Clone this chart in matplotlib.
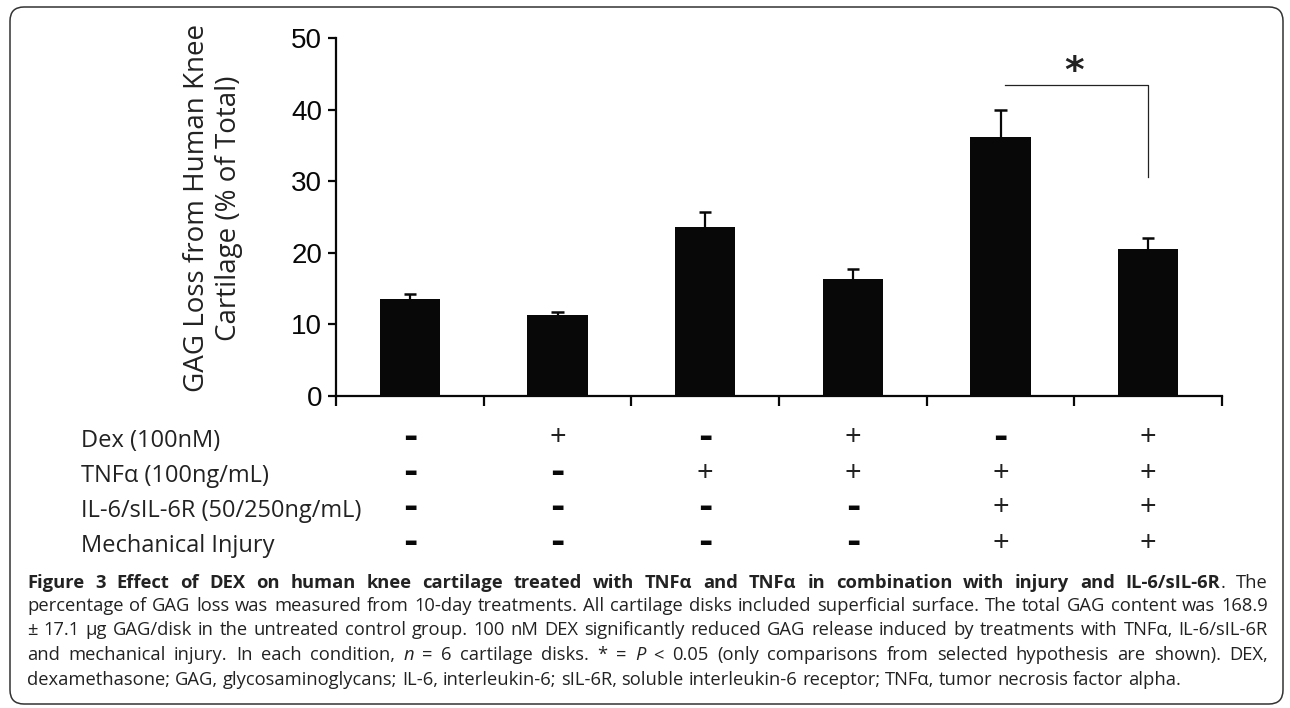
import matplotlib.pyplot as plt
import matplotlib.transforms as mtransforms
from matplotlib.patches import FancyBboxPatch
import numpy as np

# --- data ---
gag_loss = [13.5, 11.3, 23.6, 16.3, 36.2, 20.6]
gag_err = [0.7, 0.4, 2.1, 1.4, 3.8, 1.4]
yticks = [0, 10, 20, 30, 40, 50]
ylabel = "GAG Loss from Human Knee\nCartilage (% of Total)"

row_labels = ["Dex (100nM)", "TNF\u03b1 (100ng/mL)",
              "IL-6/sIL-6R (50/250ng/mL)", "Mechanical Injury"]
dex = ["-", "+", "-", "+", "-", "+"]
tnf = ["-", "-", "+", "+", "+", "+"]
il6 = ["-", "-", "-", "-", "+", "+"]
injury = ["-", "-", "-", "-", "+", "+"]
table_rows = [dex, tnf, il6, injury]

sig_pair = (4, 5)
sig_mark = "*"

caption_lines = [
    [("Figure 3 Effect of DEX on human knee cartilage treated with TNF\u03b1 and TNF\u03b1 "
      "in combination with injury and IL-6/sIL-6R", "b"), (". The", "r")],
    [("percentage of GAG loss was measured from 10-day treatments. All cartilage disks "
      "included superficial surface. The total GAG content was 168.9", "r")],
    [("\u00b1 17.1 \u03bcg GAG/disk in the untreated control group. 100 nM DEX significantly "
      "reduced GAG release induced by treatments with TNF\u03b1, IL-6/sIL-6R", "r")],
    [("and mechanical injury. In each condition, ", "r"), ("n", "i"),
     (" = 6 cartilage disks. * = ", "r"), ("P", "i"),
     (" < 0.05 (only comparisons from selected hypothesis are shown). DEX,", "r")],
    [("dexamethasone; GAG, glycosaminoglycans; IL-6, interleukin-6; sIL-6R, soluble "
      "interleukin-6 receptor; TNF\u03b1, tumor necrosis factor alpha.", "r")],
]

# --- layout ---
W, H = 1290, 708
fig = plt.figure(figsize=(W / 100, H / 100), dpi=100)
renderer = fig.canvas.get_renderer()


def fx(px):
    return px / W


def fy(py):
    return 1 - py / H


ink = "#080808"
ax = fig.add_axes([fx(336), fy(396), fx(1222) - fx(336), fy(38) - fy(396)])
x = np.arange(len(gag_loss)) + 0.5
vals = np.array(gag_loss)
errs = np.array(gag_err)
ax.bar(x, vals, width=0.41, color=ink, zorder=2)
ax.vlines(x, vals, vals + errs, color=ink, lw=1.6, zorder=1)
ax.hlines(vals + errs, x - 0.042, x + 0.042, color=ink, lw=1.8, zorder=1)

ax.set_xlim(0, len(gag_loss))
ax.set_ylim(yticks[0], yticks[-1])
ax.set_xticks(np.arange(0, len(gag_loss) + 1))
ax.set_xticklabels([])
ax.set_yticks(yticks)
for s in ["top", "right"]:
    ax.spines[s].set_visible(False)
for s in ["left", "bottom"]:
    ax.spines[s].set_linewidth(1.6)
    ax.spines[s].set_color(ink)
ax.tick_params(axis="y", direction="out", length=6, width=1.6, pad=4,
               labelsize=20, colors=ink)
ax.tick_params(axis="x", direction="out", length=7.5, width=1.6, colors=ink)
for lab in ax.get_yticklabels():
    lab.set_family(["Liberation Sans Narrow", "Liberation Sans"])

# significance bracket
a, b = sig_pair
top = vals[a] + errs[a] + 3.4
ax.plot([x[a] + 0.03, x[b], x[b]], [top, top, vals[b] + errs[b] + 8.6],
        color="#222222", lw=0.9, clip_on=False)
ax.text((x[a] + x[b]) / 2, top + 0.4, sig_mark, ha="center", va="baseline",
        fontsize=27, weight="bold", color="#222222")

fig.text(fx(213), fy(208), ylabel, rotation=90, ha="center", va="center",
         fontsize=20, family="Open Sans", linespacing=1.15,
         multialignment="center", color="#222222")

# treatment table
tr = mtransforms.blended_transform_factory(ax.transData, fig.transFigure)
row_base = [447, 482, 517, 552]
for i, (lab, row) in enumerate(zip(row_labels, table_rows)):
    fig.text(fx(81), fy(row_base[i]), lab, ha="left", va="baseline",
             fontsize=17, family="Open Sans", color="#222222")
    yc = fy(row_base[i] - 9)
    for xi, sym in zip(x, row):
        if sym == "+":
            ax.text(xi, yc, "+", transform=tr, ha="center", va="center",
                    fontsize=21, family="Open Sans", color="#222222")
        else:
            ax.text(xi, yc, "-", transform=tr, ha="center", va="center",
                    fontsize=25, family="DejaVu Sans", weight="bold", color=ink)

# caption, justified between the frame margins
cap_font = "Open Sans"
cap_size = 13.2
left_px, right_px = 27, 1268
base_px = [588, 611, 635, 660, 685]
styles = {"r": {}, "b": {"weight": "bold"}, "i": {"style": "italic"}}


def text_width(s, st):
    t = fig.text(0, 0, s, fontsize=cap_size, family=cap_font, **styles[st])
    w = t.get_window_extent(renderer).width
    t.remove()
    return w


space_w = text_width("a a", "r") - text_width("aa", "r")

for li, runs in enumerate(caption_lines):
    words = [[]]
    for txt, st in runs:
        parts = txt.split(" ")
        for k, p in enumerate(parts):
            if k > 0:
                words.append([])
            if p:
                words[-1].append((p, st))
    words = [w for w in words if w]
    widths = [sum(text_width(p, st) for p, st in w) for w in words]
    if li < len(caption_lines) - 1:
        gap = (right_px - left_px - sum(widths)) / (len(words) - 1)
    else:
        gap = space_w
    xp = left_px
    for w, ww in zip(words, widths):
        xx = xp
        for p, st in w:
            fig.text(fx(xx), fy(base_px[li]), p, ha="left", va="baseline",
                     fontsize=cap_size, family=cap_font, color="#222222",
                     **styles[st])
            xx += text_width(p, st)
        xp += ww + gap

frame = FancyBboxPatch((0.10, 0.04), 12.73, 6.97,
                       boxstyle="round,pad=0,rounding_size=0.14",
                       transform=fig.dpi_scale_trans, fill=False,
                       lw=1.1, ec="#333333")
fig.add_artist(frame)

fig.savefig("out.png", dpi=100)
